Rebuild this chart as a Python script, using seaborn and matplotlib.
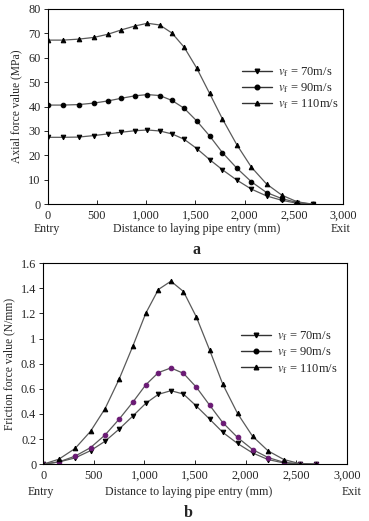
import matplotlib
matplotlib.use("Agg")
import matplotlib.pyplot as plt
from matplotlib.lines import Line2D
from matplotlib.ticker import FuncFormatter
import seaborn as sns
import pandas as pd

# distance along the laying pipe (mm), shared by both panels
distance = [0, 155, 315, 468, 612, 750, 888, 1013, 1138, 1262,
            1386, 1514, 1644, 1775, 1920, 2068, 2222, 2378, 2533, 2695]

# (a) axial force (MPa)
axial_70 = [27.4, 27.4, 27.5, 28.1, 28.8, 29.5, 30.1, 30.4, 30.0, 28.8,
            26.6, 22.8, 18.3, 14.1, 9.9, 6.2, 3.4, 1.6, 0.4, 0.0]
axial_90 = [40.6, 40.6, 40.8, 41.4, 42.3, 43.4, 44.4, 44.9, 44.5, 42.5,
            39.3, 34.1, 28.0, 21.1, 14.8, 9.2, 4.8, 2.3, 0.7, 0.0]
axial_110 = [67.2, 67.2, 67.6, 68.3, 69.6, 71.4, 73.0, 74.1, 73.4, 70.1,
             64.3, 55.7, 45.4, 34.9, 24.4, 15.2, 8.3, 3.7, 1.0, 0.0]

# (b) friction force (N/mm)
fric_70 = [0.0, 0.018, 0.05, 0.108, 0.183, 0.279, 0.385, 0.484, 0.556, 0.585,
           0.558, 0.462, 0.359, 0.253, 0.165, 0.09, 0.037, 0.01, 0.002, 0.0]
fric_90 = [0.0, 0.018, 0.064, 0.132, 0.233, 0.358, 0.496, 0.631, 0.729, 0.766,
           0.723, 0.612, 0.47, 0.33, 0.213, 0.117, 0.053, 0.015, 0.003, 0.0]
fric_110 = [0.0, 0.04, 0.125, 0.262, 0.443, 0.676, 0.944, 1.20, 1.39, 1.456,
            1.374, 1.17, 0.909, 0.635, 0.404, 0.223, 0.106, 0.037, 0.005, 0.0]

speeds = ["70", "90", "110"]
markers = ["v", "o", "^"]
x_ticks = [0, 500, 1000, 1500, 2000, 2500, 3000]

sns.set_theme(style="ticks")
plt.rcParams["font.family"] = ["Liberation Serif", "DejaVu Serif"]
plt.rcParams["mathtext.fontset"] = "stix"


def make_frame(values):
    rows = []
    for speed, ys in zip(speeds, values):
        for x, y in zip(distance, ys):
            rows.append({"distance": x, "value": y, "speed": speed})
    return pd.DataFrame(rows)


def draw_panel(ax, df, ylim, yticks, ylabel, marker_colors, ytickfmt):
    for speed, m, mc in zip(speeds, markers, marker_colors):
        sub = df[df["speed"] == speed]
        sns.lineplot(data=sub, x="distance", y="value", ax=ax, color="#5a5a5a",
                     linewidth=0.9, marker=m, markersize=3.3,
                     markerfacecolor=mc, markeredgecolor=mc, legend=False)
    ax.set_xlim(0, 3000)
    ax.set_ylim(*ylim)
    ax.set_xticks(x_ticks)
    ax.set_yticks(yticks)
    ax.xaxis.set_major_formatter(FuncFormatter(lambda v, p: f"{int(v):,}"))
    ax.yaxis.set_major_formatter(FuncFormatter(ytickfmt))
    ax.tick_params(axis="x", direction="in", length=3, width=0.7, labelsize=8.8, pad=4)
    ax.tick_params(axis="y", direction="out", length=3, width=0.7, labelsize=8.8, pad=2)
    for s in ax.spines.values():
        s.set_visible(True)
        s.set_linewidth(0.8)
        s.set_color("black")
    ax.set_xlabel("")
    ax.set_ylabel(ylabel, fontsize=8.4, labelpad=4)
    handles = [Line2D([0], [0], color="#333333", linewidth=1.0, marker=m,
                      markersize=3.3, markerfacecolor="black", markeredgecolor="black")
               for m in markers]
    labels = [r"$v_{\mathrm{f}}$ = " + s + "m/s" for s in speeds]
    return handles, labels


def bottom_texts(ax, row_y, letter_y, entry_x, exit_x, label_x, letter):
    ax.text(entry_x, row_y, "Entry", transform=ax.transAxes, ha="center", va="center", fontsize=8.6)
    ax.text(exit_x, row_y, "Exit", transform=ax.transAxes, ha="center", va="center", fontsize=8.6)
    ax.text(label_x, row_y, "Distance to laying pipe entry (mm)", transform=ax.transAxes,
            ha="center", va="center", fontsize=8.6)
    ax.text(label_x, letter_y, letter, transform=ax.transAxes, ha="center", va="center",
            fontsize=11.5, fontweight="bold")


fig = plt.figure(figsize=(3.69, 5.21), dpi=100)
ax_a = fig.add_axes([0.129, 0.608, 0.801, 0.375])
ax_b = fig.add_axes([0.117, 0.109, 0.823, 0.386])

df_a = make_frame([axial_70, axial_90, axial_110])
df_b = make_frame([fric_70, fric_90, fric_110])

h, l = draw_panel(ax_a, df_a, (0, 80), list(range(0, 81, 10)),
                  "Axial force value (MPa)", ["black", "black", "black"],
                  lambda v, p: f"{int(v)}")
ax_a.legend(h, l, loc="upper left", bbox_to_anchor=(0.62, 0.77), frameon=False,
            handlelength=2.4, labelspacing=0.2, fontsize=9, handletextpad=0.5,
            borderpad=0.4)
bottom_texts(ax_a, -0.128, -0.236, -0.003, 0.99, 0.505, "a")

h, l = draw_panel(ax_b, df_b, (0, 1.6), [0, 0.2, 0.4, 0.6, 0.8, 1.0, 1.2, 1.4, 1.6],
                  "Friction force value (N/mm)", ["black", "#6a1a74", "black"],
                  lambda v, p: f"{v:g}")
ax_b.legend(h, l, loc="upper left", bbox_to_anchor=(0.615, 0.727), frameon=False,
            handlelength=2.4, labelspacing=0.2, fontsize=9, handletextpad=0.5,
            borderpad=0.4)
bottom_texts(ax_b, -0.14, -0.243, -0.007, 1.017, 0.478, "b")

fig.savefig("out.png", dpi=100)
plt.close(fig)
